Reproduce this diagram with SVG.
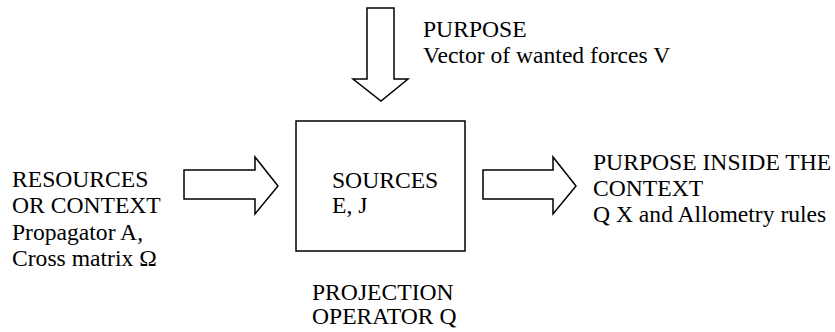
<svg xmlns="http://www.w3.org/2000/svg" width="835" height="332" viewBox="0 0 835 332">
<style>
text{font-family:"Liberation Serif","Times New Roman",serif;font-size:23.6px;fill:#000}
.a{fill:#fff;stroke:#000;stroke-width:1.5;stroke-linejoin:miter}
</style>
<rect width="835" height="332" fill="#fff"/>
<g id="connectors">
<path class="a" d="M367,8 H394 V79 H408 L381,101 L353,79 H367 Z"/>
<path class="a" d="M184,170 H255 V157 L278,186 L255,214 V199 H184 Z"/>
<path class="a" d="M483,170 H553 V157 L576,186 L553,214 V199 H483 Z"/>
</g>
<g id="sources">
<rect x="296" y="121" width="169" height="130" fill="#fff" stroke="#000" stroke-width="1.5"/>
<text x="332" y="188">SOURCES</text>
<text x="332" y="213">E, J</text>
</g>
<g id="purpose">
<text x="423" y="37">PURPOSE</text>
<text x="423" y="63">Vector of wanted forces V</text>
</g>
<g id="resources">
<text x="12" y="187">RESOURCES</text>
<text x="12" y="213">OR CONTEXT</text>
<text x="12" y="240">Propagator A,</text>
<text x="12" y="266">Cross matrix Ω</text>
</g>
<g id="result">
<text x="593" y="170">PURPOSE INSIDE THE</text>
<text x="593" y="196">CONTEXT</text>
<text x="593" y="222">Q X and Allometry rules</text>
</g>
<g id="projection">
<text x="312" y="300">PROJECTION</text>
<text x="312" y="324">OPERATOR Q</text>
</g>
</svg>
